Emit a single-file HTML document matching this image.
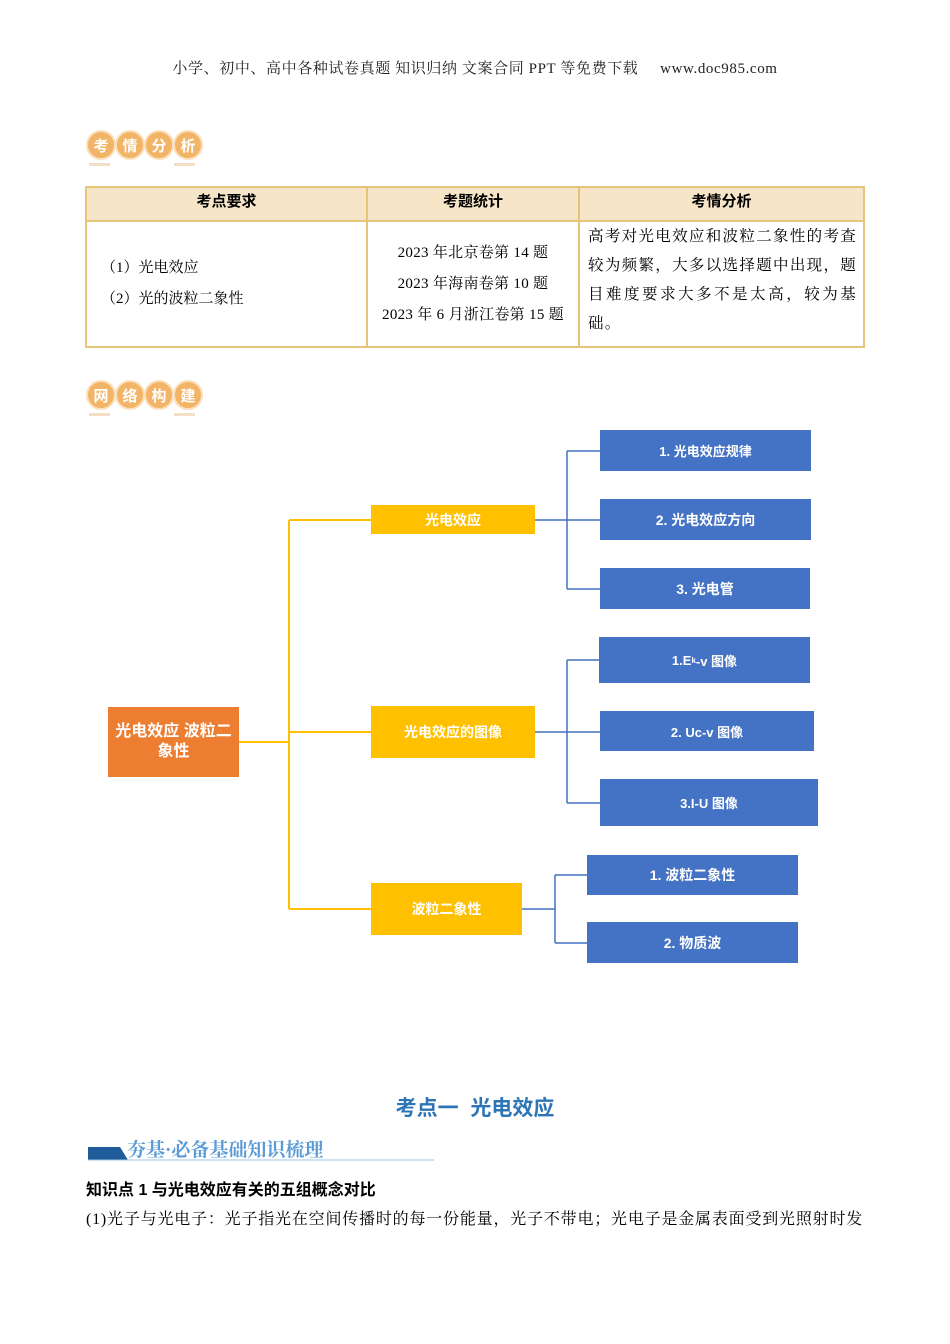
<!DOCTYPE html>
<html><head><meta charset="utf-8"><style>
body{margin:0;width:950px;height:1344px;background:#fff;position:relative;font-family:"Liberation Serif","Noto Serif CJK SC",serif;overflow:hidden}
.a{position:absolute}
.s{font-family:"Liberation Sans","Noto Sans CJK SC",sans-serif}
.bx{position:absolute;display:flex;align-items:center;justify-content:center;color:#fff;font-weight:bold;font-size:14px;font-family:"Liberation Sans","Noto Sans CJK SC",sans-serif;text-align:center}
.bl{background:#4472c4}.ye{background:#ffc000}
.c{width:26px;height:26px;margin-right:-1px;border-radius:50%;background:#f2b466;border:2px solid #fbe0bd;color:#fff;font-weight:bold;font-size:15px;display:flex;align-items:center;justify-content:center;font-family:"Liberation Sans","Noto Sans CJK SC",sans-serif}
td{border:2px solid #e5c679;padding:0;font-size:15px}
</style></head><body>
<div class="a" style="top:57px;left:0;width:950px;text-align:center;font-size:15px;color:#222;letter-spacing:0.6px">小学、初中、高中各种试卷真题 知识归纳 文案合同 PPT 等免费下载 &nbsp;&nbsp;&nbsp; www.doc985.com</div>

<div class="a" style="left:86px;top:130px;display:flex"><div class="c">考</div><div class="c">情</div><div class="c">分</div><div class="c">析</div></div>
<div class="a" style="left:89px;top:163px;width:21px;height:3px;background:#f3dfc5"></div>
<div class="a" style="left:174px;top:163px;width:21px;height:3px;background:#f3dfc5"></div>

<table class="a" style="left:85px;top:186px;width:780px;border-collapse:collapse">
<tr style="height:34px;background:#f6e6c7;font-family:'Liberation Sans','Noto Sans CJK SC',sans-serif;font-weight:bold;text-align:center;font-size:16px"><td style="width:279px;vertical-align:top;padding-top:2px">考点要求</td><td style="width:210px;vertical-align:top;padding-top:2px">考题统计</td><td style="vertical-align:top;padding-top:2px">考情分析</td></tr>
<tr style="height:126px"><td style="padding-left:14px;line-height:31px">（1）光电效应<br>（2）光的波粒二象性</td><td style="text-align:center;line-height:31px;letter-spacing:0.3px">2023 年北京卷第 14 题<br>2023 年海南卷第 10 题<br>2023 年 6 月浙江卷第 15 题</td><td style="padding:0 6px 0 8px;line-height:29px;vertical-align:top;text-align:justify;letter-spacing:1.2px;font-size:15.5px">高考对光电效应和波粒二象性的考查较为频繁，大多以选择题中出现，题目难度要求大多不是太高，较为基础。</td></tr>
</table>

<div class="a" style="left:86px;top:380px;display:flex"><div class="c">网</div><div class="c">络</div><div class="c">构</div><div class="c">建</div></div>
<div class="a" style="left:89px;top:413px;width:21px;height:3px;background:#f3dfc5"></div>
<div class="a" style="left:174px;top:413px;width:21px;height:3px;background:#f3dfc5"></div>

<svg class="a" style="left:0;top:0" width="950" height="1000">
<g stroke="#ffc000" stroke-width="2" fill="none">
<path d="M239 742H289M289 520V909M289 520H371M289 732H371M289 909H371"/></g>
<g stroke="#4472c4" stroke-width="1.5" fill="none">
<path d="M535 520H600M567 451V589M567 451H600M567 589H600"/>
<path d="M535 732H600M567 660V803M567 660H600M567 803H600"/>
<path d="M522 909H555M555 875V943M555 875H587M555 943H587"/></g>
</svg>

<div class="bx" style="left:108px;top:707px;width:131px;height:70px;background:#ed7d31;font-size:16px;line-height:20px">光电效应 波粒二<br>象性</div>
<div class="bx ye" style="left:371px;top:505px;width:164px;height:29px">光电效应</div>
<div class="bx ye" style="left:371px;top:706px;width:164px;height:52px">光电效应的图像</div>
<div class="bx ye" style="left:371px;top:883px;width:151px;height:52px">波粒二象性</div>
<div class="bx bl" style="left:600px;top:430px;width:211px;height:41px;font-size:13px">1. 光电效应规律</div>
<div class="bx bl" style="left:600px;top:499px;width:211px;height:41px">2. 光电效应方向</div>
<div class="bx bl" style="left:600px;top:568px;width:210px;height:41px">3. 光电管</div>
<div class="bx bl" style="left:599px;top:637px;width:211px;height:46px;font-size:13px">1.E<sub style="font-size:8px;vertical-align:-3px">k</sub>-v 图像</div>
<div class="bx bl" style="left:600px;top:711px;width:214px;height:40px;font-size:13px">2. Uc-v 图像</div>
<div class="bx bl" style="left:600px;top:779px;width:218px;height:47px;font-size:13px">3.I-U 图像</div>
<div class="bx bl" style="left:587px;top:855px;width:211px;height:40px">1. 波粒二象性</div>
<div class="bx bl" style="left:587px;top:922px;width:211px;height:41px">2. 物质波</div>

<div class="a s" style="top:1092px;left:0;width:950px;text-align:center;font-size:21px;font-weight:bold;color:#2e75b6">考点一 &nbsp;光电效应</div>
<svg class="a" style="left:86px;top:1143px" width="350" height="20"><path d="M2 4H34L42 17H2Z" fill="#1f5c99"/><path d="M2 17H348" stroke="#9dc3e6" stroke-width="1"/></svg>
<div class="a" style="left:127px;top:1135px;font-size:19px;font-weight:bold;color:#5b9bd5">夯基·必备基础知识梳理</div>
<div class="a s" style="left:86px;top:1176px;font-size:16px;font-weight:bold;color:#000">知识点 1 与光电效应有关的五组概念对比</div>
<div class="a" style="left:86px;top:1206px;font-size:16px;color:#000;white-space:nowrap;letter-spacing:0.8px">(1)光子与光电子：光子指光在空间传播时的每一份能量，光子不带电；光电子是金属表面受到光照射时发</div>
</body></html>
